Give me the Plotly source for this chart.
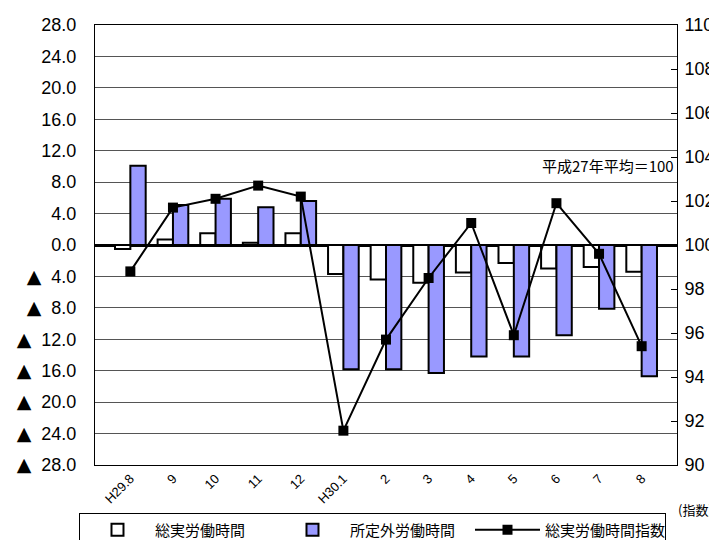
import plotly.graph_objects as go

months = ["H29.8", "9", "10", "11", "12", "H30.1", "2", "3", "4", "5", "6", "7", "8"]
total_hours = [-0.5, 0.7, 1.5, 0.3, 1.5, -3.7, -4.4, -4.8, -3.5, -2.3, -3.0, -2.8, -3.4]
overtime_hours = [10.1, 5.1, 5.9, 4.8, 5.6, -15.8, -15.8, -16.3, -14.2, -14.2, -11.5, -8.1, -16.7]
total_index = [98.8, 101.7, 102.1, 102.7, 102.2, 91.56, 95.7, 98.5, 101.0, 95.9, 101.9, 99.6, 95.4]

left_vals = list(range(-28, 29, 4))
left_text = [("<span style='font-family:DejaVu Sans;font-size:19px'>▲</span>\u00a0\u00a0%.1f" % abs(v))
             if v < 0 else "%.1f" % v for v in left_vals]
right_vals = list(range(90, 111, 2))

FONT = "Liberation Sans, Arial, Noto Sans CJK JP"
JP = "Noto Sans CJK JP"

fig = go.Figure()
fig.add_trace(go.Bar(
    x=months, y=total_hours, name="総実労働時間",
    marker=dict(color="white", line=dict(color="black", width=2)),
))
fig.add_trace(go.Bar(
    x=months, y=overtime_hours, name="所定外労働時間",
    marker=dict(color="#9999FF", line=dict(color="black", width=2)),
))
fig.add_trace(go.Scatter(
    x=months, y=total_index, name="総実労働時間指数", yaxis="y2",
    mode="lines+markers",
    line=dict(color="black", width=2),
    marker=dict(symbol="square", size=10, color="black"),
))

fig.update_layout(
    width=717, height=540,
    margin=dict(l=87, r=48, t=17, b=83, autoexpand=False),
    paper_bgcolor="white", plot_bgcolor="white",
    font=dict(family=FONT, color="black"),
    barmode="group", bargap=0.28, bargroupgap=0,
    showlegend=True,
    legend=dict(
        orientation="h", x=-0.0275, y=-0.108, xanchor="left", yanchor="top",
        bordercolor="black", borderwidth=1, bgcolor="white",
        font=dict(size=15, family=JP),
        itemwidth=65, entrywidth=115, tracegroupgap=0,
    ),
    xaxis=dict(
        type="category", showline=True, linecolor="black", linewidth=1, mirror=True,
        tickangle=-45, tickfont=dict(size=13), ticks="", showgrid=False,
        automargin=False,
    ),
    yaxis=dict(
        range=[-28, 28], tickvals=left_vals, ticktext=left_text,
        tickfont=dict(size=18), showline=True, linecolor="black", linewidth=1,
        showgrid=True, gridcolor="#555555", gridwidth=1,
        zeroline=True, zerolinecolor="black", zerolinewidth=3, ticks="",
        ticklabelstandoff=14, automargin=False,
    ),
    yaxis2=dict(
        overlaying="y", side="right", range=[90, 110], tickvals=right_vals,
        tickfont=dict(size=18), showline=True, linecolor="black", linewidth=1,
        showgrid=False, zeroline=False, ticks="inside", ticklen=6, tickcolor="black",
        ticklabelstandoff=3, automargin=False,
    ),
    annotations=[
        dict(text="平成27年平均＝100", xref="paper", yref="paper", x=0.998, y=0.68,
             xanchor="right", yanchor="middle", showarrow=False,
             font=dict(size=15, family=JP)),
        dict(text="(指数)", xref="paper", yref="paper", x=1.066, y=-0.1,
             xanchor="right", yanchor="middle", showarrow=False,
             font=dict(size=13, family=JP)),
    ],
)

fig.write_html("out.html")
